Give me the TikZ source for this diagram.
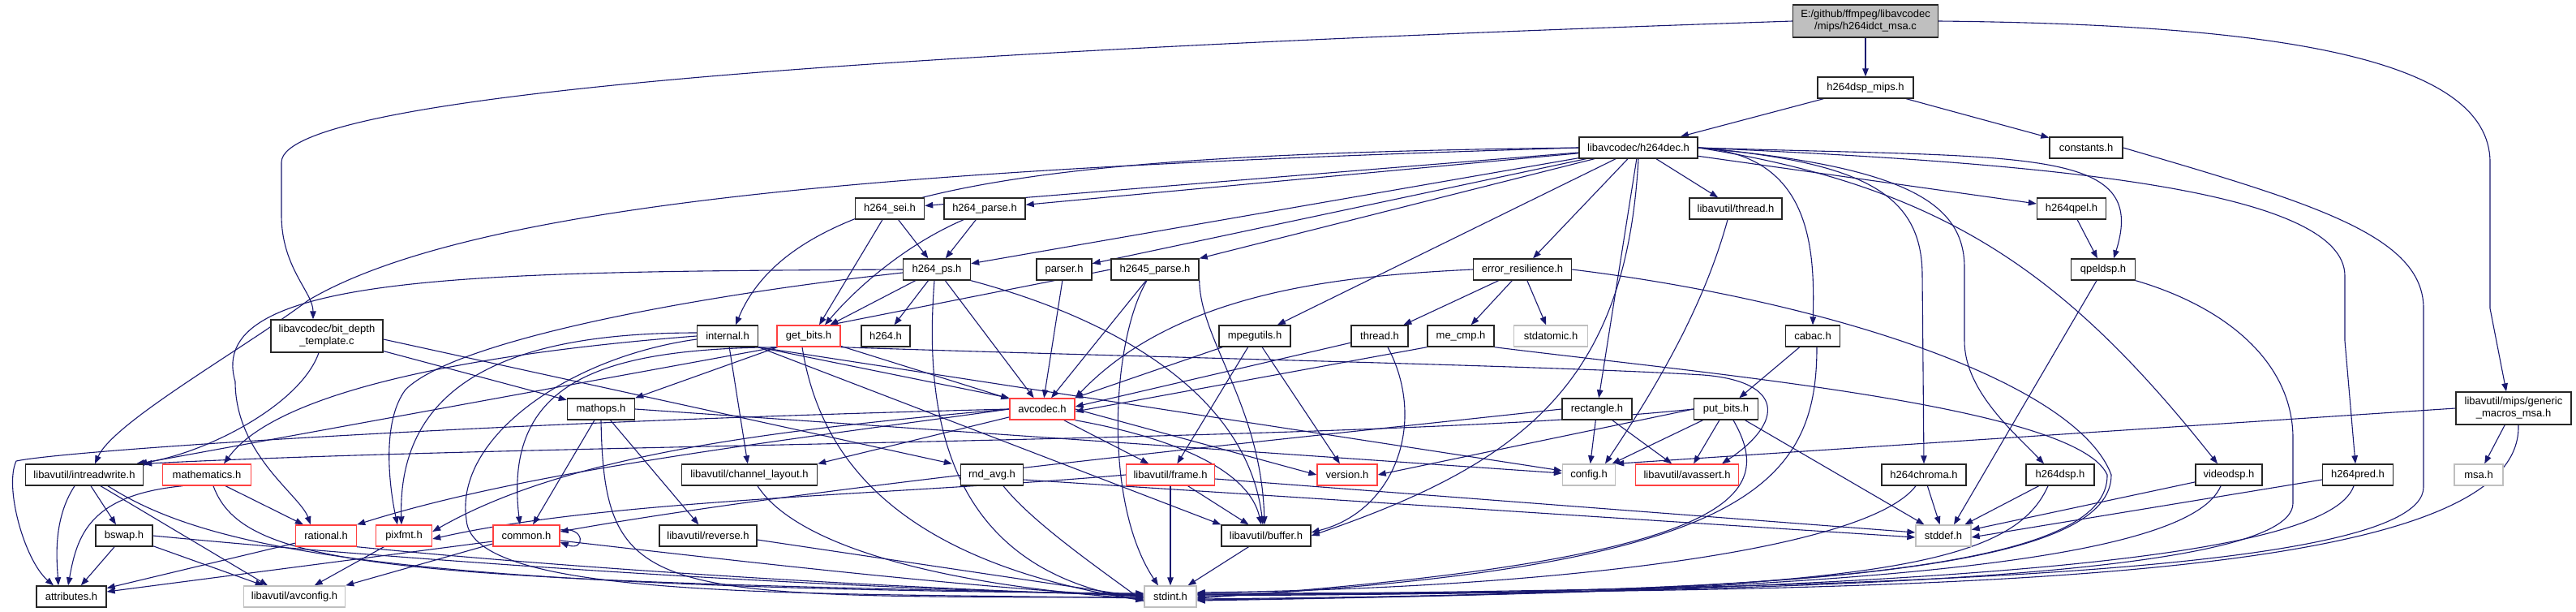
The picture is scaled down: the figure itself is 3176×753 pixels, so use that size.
\documentclass[tikz,border=0pt]{standalone}
\usepackage{fontspec}
\setmainfont{Liberation Sans}
\usetikzlibrary{arrows.meta}
\pgfdeclarelayer{bg}
\pgfsetlayers{bg,main}
\definecolor{edgec}{RGB}{25,25,112}
\definecolor{redb}{RGB}{255,64,64}
\definecolor{grayb}{RGB}{191,191,191}
\newcommand{\nodefnt}{\fontsize{13}{15}\selectfont}
\begin{document}
\begin{tikzpicture}[x=1pt,y=-1pt,
  nb/.style={draw=black!85, line width=1.4pt, fill=white, minimum height=26pt, inner xsep=2pt, inner ysep=0pt, font=\nodefnt, align=center},
  nr/.style={nb, draw=redb},
  ng/.style={nb, draw=grayb},
  nt/.style={nb, minimum height=40pt},
  nm/.style={nb, fill=grayb, minimum height=40pt},
  ln/.style={draw=edgec, line width=1.1pt, -{Triangle[length=10pt,width=7.5pt]}},
]
\useasboundingbox (0,0) rectangle (3176,753);

\node[nm,minimum width=179pt] (main) at (2300,26) {E:/github/ffmpeg/libavcodec\\/mips/h264idct\_msa.c};
\node[nb,minimum width=118pt] (dspmips) at (2300,108) {h264dsp\_mips.h};
\node[nb,minimum width=146pt] (dec) at (2020,182) {libavcodec/h264dec.h};
\node[nb,minimum width=90pt] (const) at (2572,182) {constants.h};
\node[nb,minimum width=85pt] (sei) at (1097,257) {h264\_sei.h};
\node[nb,minimum width=100pt] (parse) at (1214,257) {h264\_parse.h};
\node[nb,minimum width=114pt] (avthread) at (2140,257) {libavutil/thread.h};
\node[nb,minimum width=85pt] (qpel) at (2554,257) {h264qpel.h};
\node[nb,minimum width=83pt] (ps) at (1155,332) {h264\_ps.h};
\node[nb,minimum width=68pt] (parser) at (1312,332) {parser.h};
\node[nb,minimum width=108pt] (hp) at (1424,332) {h2645\_parse.h};
\node[nb,minimum width=121pt] (er) at (1877,332) {error\_resilience.h};
\node[nb,minimum width=79pt] (qpeldsp) at (2593,332) {qpeldsp.h};
\node[nt,minimum width=138pt] (bd) at (403,414) {libavcodec/bit\_depth\\\_template.c};
\node[nb,minimum width=75pt] (internal) at (897,414) {internal.h};
\node[nr,minimum width=78pt] (gb) at (997,414) {get\_bits.h};
\node[nb,minimum width=60pt] (h264) at (1092,414) {h264.h};
\node[nb,minimum width=88pt] (mpeg) at (1547,414) {mpegutils.h};
\node[nb,minimum width=70pt] (thread) at (1701,414) {thread.h};
\node[nb,minimum width=82pt] (mecmp) at (1801,414) {me\_cmp.h};
\node[ng,minimum width=91pt] (atomic) at (1912,414) {stdatomic.h};
\node[nb,minimum width=67pt] (cabac) at (2235,414) {cabac.h};
\node[nt,minimum width=142pt] (gm) at (3099,503) {libavutil/mips/generic\\\_macros\_msa.h};
\node[nb,minimum width=83pt] (mathops) at (741,504) {mathops.h};
\node[nr,minimum width=80pt] (avcodec) at (1285,504) {avcodec.h};
\node[nb,minimum width=86pt] (rect) at (1969,504) {rectangle.h};
\node[nb,minimum width=79pt] (pb) at (2128,504) {put\_bits.h};
\node[nb,minimum width=145pt] (irw) at (104,585) {libavutil/intreadwrite.h};
\node[nr,minimum width=109pt] (mathem) at (255,585) {mathematics.h};
\node[nb,minimum width=167pt] (chl) at (924,585) {libavutil/channel\_layout.h};
\node[nb,minimum width=77pt] (rnd) at (1223,585) {rnd\_avg.h};
\node[nr,minimum width=109pt] (frame) at (1443,585) {libavutil/frame.h};
\node[nr,minimum width=74pt] (version) at (1661,585) {version.h};
\node[ng,minimum width=65pt] (config) at (1959,585) {config.h};
\node[nr,minimum width=127pt] (avassert) at (2080,585) {libavutil/avassert.h};
\node[nb,minimum width=104pt] (chroma) at (2372,585) {h264chroma.h};
\node[nb,minimum width=84pt] (h264dsp) at (2540,585) {h264dsp.h};
\node[nb,minimum width=82pt] (vdsp) at (2748,585) {videodsp.h};
\node[nb,minimum width=87pt] (pred) at (2907,585) {h264pred.h};
\node[ng,minimum width=60pt] (msa) at (3056,585) {msa.h};
\node[nb,minimum width=70pt] (bswap) at (153,660) {bswap.h};
\node[nr,minimum width=75pt] (rational) at (402,660) {rational.h};
\node[nr,minimum width=69pt] (pixfmt) at (498,660) {pixfmt.h};
\node[nr,minimum width=82pt] (common) at (649,660) {common.h};
\node[nb,minimum width=120pt] (reverse) at (873,660) {libavutil/reverse.h};
\node[nb,minimum width=110pt] (buffer) at (1561,660) {libavutil/buffer.h};
\node[ng,minimum width=68pt] (stddef) at (2396,660) {stddef.h};
\node[nb,minimum width=86pt] (attr) at (88,735) {attributes.h};
\node[ng,minimum width=125pt] (avconfig) at (363,735) {libavutil/avconfig.h};
\node[ng,minimum width=64pt] (stdint) at (1443,735) {stdint.h};

\begin{pgfonlayer}{bg}
\fill[white] (0,0) rectangle (3176,753);
% main file
\draw[ln] (main) -- (dspmips);
\draw[ln] (main.west) .. controls (1200,60) and (347,110) .. (347,200) -- (347,265) .. controls (347,330) and (386,360) .. ([xshift=-17pt]bd.north);
\draw[ln] (main.east) .. controls (2800,30) and (3070,70) .. (3070,200) -- (3070,380) -- ([xshift=-9pt]gm.north);
\draw[ln] (dspmips) -- (dec);
\draw[ln] (dspmips) -- (const);
\draw[ln] (const.east) .. controls (2850,250) and (2988,290) .. (2988,380) -- (2988,600) .. controls (2988,715) and (2200,725) .. ([yshift=2pt]stdint.east);
% h264dec
\draw[ln] (dec) -- (sei);
\draw[ln] (dec) -- (parse);
\draw[ln] (dec) -- (ps);
\draw[ln] (dec) -- (parser);
\draw[ln] (dec) -- (hp);
\draw[ln] (dec) -- (er);
\draw[ln] (dec) -- (avthread);
\draw[ln] (dec.west) .. controls (1300,190) and (980,225) .. ([xshift=10pt]internal.north);
\draw[ln] (dec.west) .. controls (1200,205) and (600,240) .. (380,370) .. controls (300,430) and (140,520) .. ([xshift=13pt]irw.north);
\draw[ln] (dec) -- (mpeg);
\draw[ln] (dec.south) .. controls (2005,470) and (1880,570) .. (buffer.east);
\draw[ln] (dec) -- (rect);
\draw[ln] (dec.east) .. controls (2230,190) and (2238,300) .. (cabac.north);
\draw[ln] (dec.east) .. controls (2300,200) and (2370,240) .. (2370,340) -- (chroma.north);
\draw[ln] (dec.east) .. controls (2350,205) and (2422,250) .. (2422,330) -- (2422,420) .. controls (2422,480) and (2480,530) .. ([xshift=-20pt]h264dsp.north);
\draw[ln] (dec.east) .. controls (2400,230) and (2550,340) .. ([xshift=-14pt]vdsp.north);
\draw[ln] (dec.east) .. controls (2500,200) and (2891,230) .. (2891,340) -- (2891,420) -- ([xshift=-3pt]pred.north);
\draw[ln] (dec) -- (qpel);
\draw[ln] (dec.east) .. controls (2500,195) and (2650,180) .. ([xshift=13pt]qpeldsp.north);
% sei / parse / ps
\draw[ln] (sei) -- (ps);
\draw[ln] ([xshift=-9pt]sei.south) -- ([xshift=13pt]gb.north);
\draw[ln] (parse) -- (ps);
\draw[ln] ([xshift=-26pt]parse.south) .. controls (1120,300) and (1060,350) .. ([xshift=20pt]gb.north);
\draw[ln] (ps) -- (gb);
\draw[ln] (ps) -- (h264);
\draw[ln] (ps) -- (avcodec);
\draw[ln] ([xshift=-3pt]ps.south) .. controls (1140,500) and (1160,700) .. ([yshift=-4pt]stdint.west);
\draw[ln] (ps.south east) .. controls (1400,400) and (1540,500) .. ([xshift=-4pt]buffer.north);
\draw[ln] (ps.west) .. controls (600,335) and (250,335) .. (290,470) .. controls (290,560) and (370,610) .. ([xshift=-19pt]rational.north);
\draw[ln] ([yshift=-4pt]ps.west) .. controls (850,365) and (560,420) .. (500,480) .. controls (470,520) and (480,600) .. ([xshift=-8pt]pixfmt.north);
\draw[ln] (parser) -- (avcodec);
\draw[ln] (hp.west) -- ([xshift=26pt]gb.north);
\draw[ln] (hp) -- (avcodec);
\draw[ln] ([xshift=-10pt]hp.south) .. controls (1370,420) and (1360,620) .. ([xshift=-15pt]stdint.north);
\draw[ln] (hp.south east) .. controls (1480,420) and (1555,500) .. ([xshift=-2pt]buffer.north);
% error_resilience
\draw[ln] (er.west) .. controls (1650,340) and (1450,360) .. (avcodec.north east);
\draw[ln] (er) -- (thread);
\draw[ln] (er) -- (mecmp);
\draw[ln] (er) -- (atomic);
\draw[ln] (er.east) .. controls (2250,370) and (2560,470) .. (2603,585) .. controls (2603,690) and (2300,735) .. ([yshift=3pt]stdint.east);
\draw[ln] ([xshift=-10pt]avthread.south) .. controls (2100,380) and (2040,480) .. ([xshift=20pt]config.north);
\draw[ln] (qpel) -- (qpeldsp);
\draw[ln] (qpeldsp) -- ([xshift=13pt]stddef.north);
\draw[ln] (qpeldsp.south east) .. controls (2750,380) and (2827,450) .. (2827,540) -- (2827,620) .. controls (2827,720) and (2100,730) .. ([yshift=1pt]stdint.east);
% bit_depth_template
\draw[ln] (bd) -- (mathops);
\draw[ln] ([yshift=-4pt]bd.east) -- ([xshift=-10pt]rnd.north west);
\draw[ln] ([xshift=-10pt]bd.south) .. controls (370,500) and (250,560) .. ([xshift=64pt]irw.north);
% internal
\draw[ln] (internal.south east) -- (avcodec.north west);
\draw[ln] (internal.west) .. controls (650,430) and (350,470) .. ([xshift=21pt]mathem.north);
\draw[ln] ([yshift=4pt]internal.west) .. controls (650,410) and (490,460) .. ([xshift=-3pt]pixfmt.north);
\draw[ln] (internal) -- (chl);
\draw[ln] (internal.south east) -- (buffer.north west);
\draw[ln] (internal.south east) -- ([yshift=5pt]config.west);
\draw[ln] ([yshift=-4pt]internal.west) .. controls (700,440) and (560,540) .. (575,640) .. controls (580,740) and (1000,730) .. ([yshift=-2pt]stdint.west);
% get_bits
\draw[ln] (gb) -- (avcodec);
\draw[ln] (gb) -- (mathops.north east);
\draw[ln] (gb.south west) .. controls (740,430) and (620,470) .. ([xshift=-8pt]common.north);
\draw[ln] (gb.south west) -- ([xshift=-6pt]irw.north east);
\draw[ln] (gb.south east) .. controls (1400,440) and (1900,450) .. (2100,462) .. controls (2200,470) and (2200,520) .. ([xshift=43pt]avassert.north);
\draw[ln] ([xshift=-8pt]gb.south) .. controls (1010,560) and (1100,690) .. ([yshift=-5pt]stdint.west);
% mpegutils, thread, me_cmp
\draw[ln] (mpeg) -- (avcodec);
\draw[ln] (mpeg) -- (frame);
\draw[ln] (mpeg) -- (version);
\draw[ln] (thread) -- ([yshift=3pt]avcodec.east);
\draw[ln] ([xshift=10pt]thread.south) .. controls (1760,520) and (1720,630) .. ([yshift=4pt]buffer.east);
\draw[ln] (mecmp.south west) -- ([yshift=-3pt]avcodec.east);
\draw[ln] (mecmp.south east) .. controls (2100,460) and (2560,500) .. (2598,585) .. controls (2600,690) and (2300,735) .. ([yshift=3pt]stdint.east);
% cabac
\draw[ln] (cabac) -- (pb);
\draw[ln] ([xshift=5pt]cabac.south) .. controls (2240,600) and (2150,700) .. ([yshift=-1pt]stdint.east);
% generic macros
\draw[ln] (gm) -- (msa);
\draw[ln] (gm.west) -- (config.north east);
\draw[ln] ([xshift=6pt]gm.south) .. controls (3110,720) and (2400,730) .. ([yshift=4pt]stdint.east);
% mathops
\draw[ln] (mathops) -- (common);
\draw[ln] (mathops.east) -- ([yshift=2pt]config.west);
\draw[ln] (mathops.south) .. controls (745,740) and (800,735) .. ([yshift=-1pt]stdint.west);
\draw[ln] (mathops) -- (reverse);
% avcodec
\draw[ln] (avcodec.west) .. controls (600,520) and (80,555) .. (20,568) .. controls (5,600) and (30,690) .. ([xshift=-22pt]attr.north);
\draw[ln] (avcodec.south east) .. controls (1450,540) and (1540,580) .. ([xshift=-6pt]buffer.north);
\draw[ln] (avcodec) -- (chl.north east);
\draw[ln] (avcodec) -- (frame);
\draw[ln] (avcodec.west) .. controls (950,530) and (700,560) .. ([yshift=5pt]pixfmt.east);
\draw[ln] (avcodec.west) .. controls (950,545) and (650,580) .. (rational.north east);
\draw[ln] (avcodec.east) -- (version.west);
% rectangle
\draw[ln] (rect.west) .. controls (1500,550) and (1000,600) .. ([yshift=5pt]common.east);
\draw[ln] (rect) -- (config);
\draw[ln] (rect) -- (avassert);
% put_bits
\draw[ln] (pb.west) -- (version.east);
\draw[ln] (pb.west) .. controls (1700,545) and (700,545) .. (irw.north east);
\draw[ln] (pb) -- (config);
\draw[ln] (pb) -- (avassert);
\draw[ln] ([xshift=9pt]pb.south) .. controls (2190,610) and (2150,690) .. ([yshift=-2pt]stdint.east);
\draw[ln] (pb) -- (stddef);
% intreadwrite
\draw[ln] ([xshift=-12pt]irw.south) .. controls (65,640) and (70,690) .. ([xshift=-16pt]attr.north);
\draw[ln] ([xshift=8pt]irw.south) -- ([xshift=-10pt]bswap.north);
\draw[ln] ([xshift=20pt]irw.south) -- ([xshift=-33pt]avconfig.north);
\draw[ln] ([xshift=29pt]irw.south) .. controls (260,680) and (500,725) .. ([yshift=4pt]stdint.west);
% mathematics
\draw[ln] ([xshift=-30pt]mathem.south) .. controls (110,610) and (95,660) .. ([xshift=-4pt]attr.north);
\draw[ln] ([xshift=23pt]mathem.south) -- ([xshift=-28pt]rational.north);
\draw[ln] ([xshift=8pt]mathem.south) .. controls (300,700) and (480,715) .. ([yshift=3pt]stdint.west);
% channel_layout, rnd_avg, frame
\draw[ln] ([xshift=10pt]chl.south) .. controls (980,670) and (1150,720) .. ([yshift=-3pt]stdint.west);
\draw[ln] ([xshift=14pt]rnd.south) .. controls (1270,640) and (1340,690) .. ([yshift=-6pt]stdint.west);
\draw[ln] ([yshift=-6pt]rnd.east) -- ([yshift=-2pt]stddef.west);
\draw[ln] (frame) -- (buffer);
\draw[ln] (frame) -- (stdint);
\draw[ln] ([yshift=-5pt]frame.east) -- ([yshift=4pt]stddef.west);
\draw[ln] (frame.west) .. controls (1100,610) and (750,615) .. ([yshift=-4pt]pixfmt.east);
% bottom row
\draw[ln] (bswap) -- (attr);
\draw[ln] (bswap) -- (avconfig);
\draw[ln] (bswap.east) .. controls (500,690) and (1000,725) .. ([yshift=2pt]stdint.west);
\draw[ln] (rational) -- (attr);
\draw[ln] (rational.south east) .. controls (700,700) and (1100,725) .. ([yshift=1pt]stdint.west);
\draw[ln] (pixfmt) -- (avconfig);
\draw[ln] ([yshift=-7pt]common.west) -- ([yshift=6pt]attr.east);
\draw[ln] ([yshift=-10pt]common.west) -- (avconfig.north east);
\draw[ln] ([yshift=-6pt]common.east) .. controls (900,690) and (1200,725) .. (stdint.west);
\draw[ln] ([yshift=7pt]common.east) .. controls (722,648) and (722,680) .. ([yshift=-8pt]common.east);
\draw[ln] ([yshift=-5pt]reverse.east) -- ([yshift=-1pt]stdint.west);
\draw[ln] (buffer) -- (stdint);
% right side
\draw[ln] (chroma) -- (stddef);
\draw[ln] ([xshift=-10pt]chroma.south) .. controls (2300,680) and (1900,725) .. ([yshift=5pt]stdint.east);
\draw[ln] (h264dsp) -- (stddef);
\draw[ln] ([xshift=-15pt]h264dsp.south) .. controls (2480,700) and (2300,730) .. ([yshift=-3pt]stdint.east);
\draw[ln] (vdsp) -- (stddef);
\draw[ln] ([xshift=-10pt]vdsp.south) .. controls (2700,690) and (2300,730) .. ([yshift=-4pt]stdint.east);
\draw[ln] ([yshift=-6pt]pred.west) -- ([yshift=-2pt]stddef.east);
\draw[ln] ([xshift=-5pt]pred.south) .. controls (2870,690) and (2400,725) .. ([yshift=-5pt]stdint.east);
\end{pgfonlayer}
\end{tikzpicture}
\end{document}
